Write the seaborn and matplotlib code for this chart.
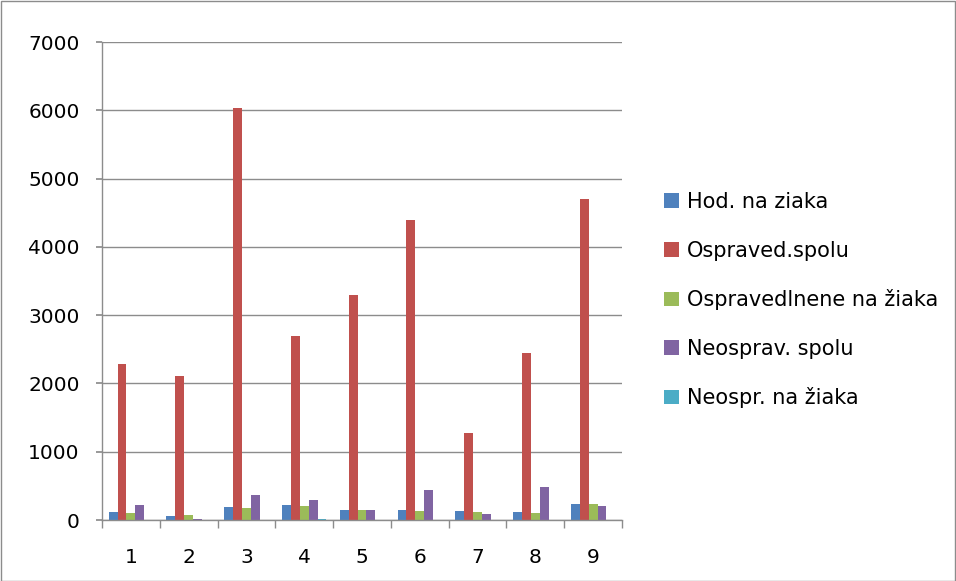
import matplotlib.pyplot as plt
import seaborn as sns
import pandas as pd
from matplotlib.patches import Rectangle
from matplotlib.ticker import FixedLocator

categories = ["1", "2", "3", "4", "5", "6", "7", "8", "9"]
hod_na_ziaka = [120, 63, 185, 220, 150, 146, 126, 121, 238]
ospraved_spolu = [2290, 2110, 6030, 2690, 3300, 4400, 1280, 2450, 4700]
ospravedlnene_na_ziaka = [105, 68, 175, 200, 146, 136, 117, 102, 234]
neosprav_spolu = [224, 20, 370, 297, 141, 433, 92, 487, 209]
neospr_na_ziaka = [3, 1, 4, 20, 2, 4, 2, 5, 3]

series_names = ["Hod. na ziaka", "Ospraved.spolu", "Ospravedlnene na žiaka",
                "Neosprav. spolu", "Neospr. na žiaka"]
series_values = [hod_na_ziaka, ospraved_spolu, ospravedlnene_na_ziaka,
                 neosprav_spolu, neospr_na_ziaka]
colors = ["#4F81BD", "#C0504D", "#9BBB59", "#8064A2", "#4BACC6"]

rows = []
for name, vals in zip(series_names, series_values):
    for cat, v in zip(categories, vals):
        rows.append({"cat": cat, "series": name, "value": v})
df = pd.DataFrame(rows)

sns.set_theme(style="white")
plt.rcParams["font.family"] = ["DejaVu Sans"]

fig = plt.figure(figsize=(9.56, 5.81), dpi=100)
ax = fig.add_axes([102 / 956, 1 - 520 / 581, 520 / 956, 478 / 581])

sns.barplot(data=df, x="cat", y="value", hue="series", palette=colors,
            width=0.77, ax=ax, saturation=1, edgecolor="none")

ax.set_ylim(0, 7000)
ax.set_xlim(-0.5, 8.5)
ax.set_yticks(range(0, 7001, 1000))
ax.yaxis.grid(True, color="#8c8c8c", linewidth=1)
ax.set_axisbelow(True)
ax.set_xlabel("")
ax.set_ylabel("")

for side in ["top", "right"]:
    ax.spines[side].set_visible(False)
for side in ["left", "bottom"]:
    ax.spines[side].set_color("#8c8c8c")
    ax.spines[side].set_linewidth(1)

ax.tick_params(axis="y", which="major", length=4, color="#8c8c8c", direction="out",
               left=True, labelsize=14.5, pad=12, labelcolor="black")
ax.tick_params(axis="x", which="major", length=0, labelsize=14.5, pad=20, labelcolor="black")
ax.xaxis.set_minor_locator(FixedLocator([i - 0.5 for i in range(10)]))
ax.tick_params(axis="x", which="minor", length=6, color="#8c8c8c", direction="out", bottom=True)

leg = ax.legend(loc="center left", bbox_to_anchor=(1.045, 0.46), frameon=False,
                fontsize=15, handlelength=0.7, handleheight=0.7, labelspacing=1.37,
                handletextpad=0.4, labelcolor="black")

fig.patches.append(Rectangle((0.5 / 956, 0.5 / 581), 1 - 1.5 / 956, 1 - 1.5 / 581,
                             transform=fig.transFigure, fill=False,
                             edgecolor="#8c8c8c", linewidth=1))

fig.savefig("out.png", dpi=100)
